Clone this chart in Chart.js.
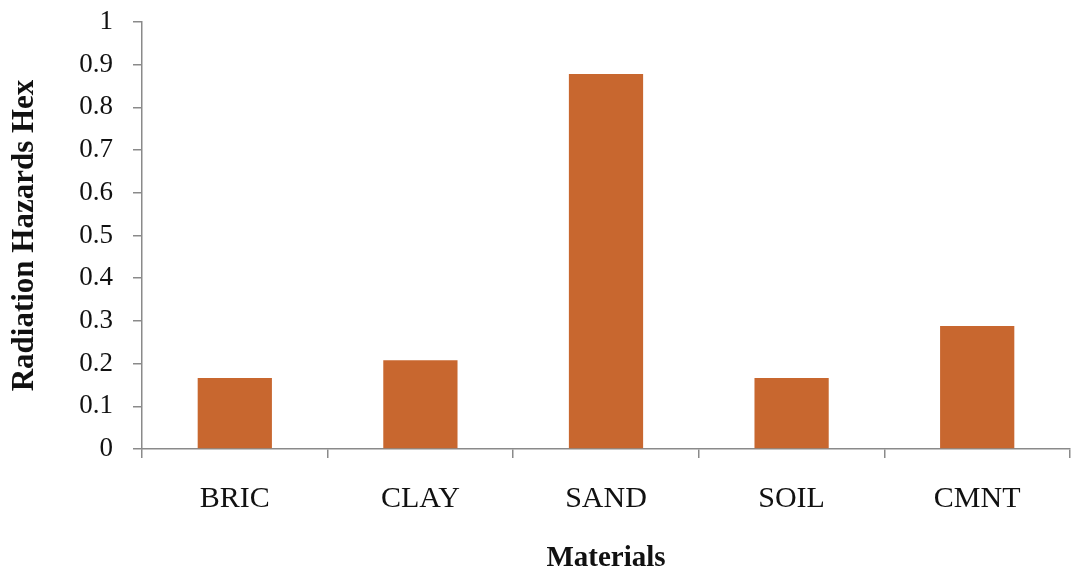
<!DOCTYPE html>
<html>
<head>
<meta charset="utf-8">
<title>Radiation Hazards Hex</title>
<script src="https://cdn.jsdelivr.net/npm/chart.js@4"></script>
<style>
  html, body { margin: 0; padding: 0; background: #fff; }
  #wrap { width: 1071px; height: 576px; }
</style>
</head>
<body>
<div id="wrap"><canvas id="chart" width="1071" height="576"></canvas></div>
<script>
// materiais e índice de risco (Hex)
const materials = ['BRIC', 'CLAY', 'SAND', 'SOIL', 'CMNT'];
const hexValues = [0.166, 0.208, 0.878, 0.166, 0.288];
const yTickLabels = ['0', '0.1', '0.2', '0.3', '0.4', '0.5', '0.6', '0.7', '0.8', '0.9', '1'];

const axisGray = '#8a8a8a';
const serif = '"Liberation Serif", "Times New Roman", serif';

const ctx = document.getElementById('chart');

new Chart(ctx, {
    type: 'bar',
    data: {
        labels: materials,
        datasets: [{
            label: 'Hex',
            data: hexValues,
            backgroundColor: '#C8672F',
            borderWidth: 0,
            categoryPercentage: 1,
            barPercentage: 0.4
        }]
    },
    options: {
        responsive: false,
        animation: false,
        layout: { padding: { top: 22, right: 1, left: 0, bottom: 0 } },
        plugins: {
            legend: { display: false },
            tooltip: { enabled: false }
        },
        scales: {
            x: {
                grid: {
                    offset: true,
                    drawOnChartArea: false,
                    drawTicks: true,
                    tickLength: 9,
                    color: axisGray,
                    lineWidth: 1.5
                },
                border: { color: axisGray, width: 1.5 },
                ticks: {
                    color: '#111',
                    padding: 23,
                    maxRotation: 0,
                    font: { family: serif, size: 30 }
                },
                title: {
                    display: true,
                    text: 'Materials',
                    color: '#111',
                    padding: { top: 0, bottom: 0 },
                    font: { family: serif, size: 29, weight: 'bold' }
                },
                afterFit: (scale) => { scale.height = 127; }
            },
            y: {
                min: 0,
                max: 1,
                grid: {
                    drawOnChartArea: false,
                    drawTicks: true,
                    tickLength: 9,
                    color: axisGray,
                    lineWidth: 1.5
                },
                border: { color: axisGray, width: 1.5 },
                ticks: {
                    stepSize: 0.1,
                    color: '#111',
                    padding: 20,
                    font: { family: serif, size: 27 },
                    callback: (value, index) => yTickLabels[index]
                },
                title: {
                    display: true,
                    text: 'Radiation Hazards Hex',
                    color: '#111',
                    padding: { top: 6, bottom: 0 },
                    font: { family: serif, size: 31, weight: 'bold' }
                },
                afterFit: (scale) => {
                    // área do gráfico começa logo abaixo do padding do layout
                    scale.width = 142;
                    scale.paddingTop = 0;
                    scale.paddingBottom = 0;
                }
            }
        }
    }
});
</script>
</body>
</html>
